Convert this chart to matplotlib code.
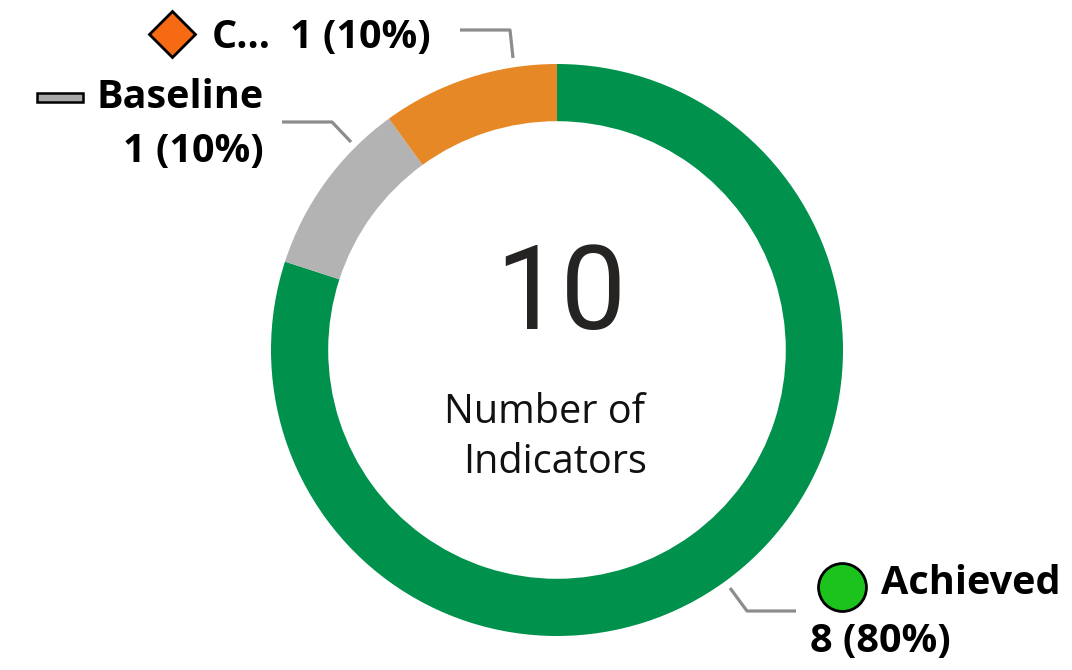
#Donut chart - number of indicators by status

#Importing the libraries
import numpy as np
import matplotlib
matplotlib.use('Agg')
import matplotlib.pyplot as plt

#Data
categories = ['Achieved', 'Baseline', 'C...']
counts = [8, 1, 1]
ring_colors = ['#00914C', '#B3B3B3', '#E68826']
marker_colors = ['#1CC31C', '#A8A8A8', '#F56A12']
center_value = sum(counts)
center_caption = ['Number of', 'Indicators']

#Figure geometry in pixels (pie centre and outer radius)
W, H = 1072, 670
CX, CY, R = 557, 350, 286

def px(x, y):
    # pixel position -> data units of the pie
    return ((x - CX) / R, (CY - y) / R)

fig = plt.figure(figsize = (W / 100, H / 100), dpi = 100)
ax = fig.add_axes([0, 0, 1, 1])

ax.pie(counts, colors = ring_colors, startangle = 90, counterclock = False,
       radius = 1.0, wedgeprops = dict(width = 0.2, linewidth = 0))

x0, y0 = px(0, H)
x1, y1 = px(W, 0)
ax.set_xlim(x0, x1)
ax.set_ylim(y0, y1)
ax.set_aspect('equal')
ax.axis('off')

#Centre text
ax.text(*px(561, 297), str(center_value), ha = 'center', va = 'center',
        fontsize = 84, color = '#252423', family = 'Roboto')
ax.text(*px(545, 413), center_caption[0], ha = 'center', va = 'center',
        fontsize = 28.5, color = '#111111', family = 'Open Sans')
ax.text(*px(555, 463), center_caption[1], ha = 'center', va = 'center',
        fontsize = 28.5, color = '#111111', family = 'Open Sans')

#Labels with markers and leader lines
total = sum(counts)
pct = [f'{c} ({c / total:.0%})' for c in counts]
lab_font = dict(family = 'Open Sans', fontweight = 'bold', fontsize = 28.5, color = 'black')
line_style = dict(color = '#8C8C8C', lw = 2.3, solid_capstyle = 'butt')

# C... (top)
ax.plot(*px(172, 34), marker = 'D', ms = 23, mfc = marker_colors[2], mec = 'black', mew = 2)
ax.text(*px(212, 37), categories[2], ha = 'left', va = 'center', **lab_font)
ax.text(*px(290, 37), pct[2], ha = 'left', va = 'center', **lab_font)
lx, ly = zip(px(460, 30), px(510, 30), px(513, 58))
ax.plot(lx, ly, **line_style)

# Baseline (left)
ax.add_patch(plt.Rectangle(px(37, 102), 46 / R, 9 / R, fc = marker_colors[1], ec = 'black', lw = 1.8))
ax.text(*px(264, 98), categories[1], ha = 'right', va = 'center', **lab_font)
ax.text(*px(264, 152), pct[1], ha = 'right', va = 'center', **lab_font)
lx, ly = zip(px(282, 122), px(332, 122), px(351, 142))
ax.plot(lx, ly, **line_style)

# Achieved (bottom right)
ax.plot(*px(842, 587), marker = 'o', ms = 34.5, mfc = marker_colors[0], mec = 'black', mew = 2)
ax.text(*px(881, 583), categories[0], ha = 'left', va = 'center', **lab_font)
ax.text(*px(810, 642), pct[0], ha = 'left', va = 'center', **lab_font)
lx, ly = zip(px(796, 611), px(747, 611), px(730, 588))
ax.plot(lx, ly, **line_style)

plt.savefig('out.png', dpi = 100)
